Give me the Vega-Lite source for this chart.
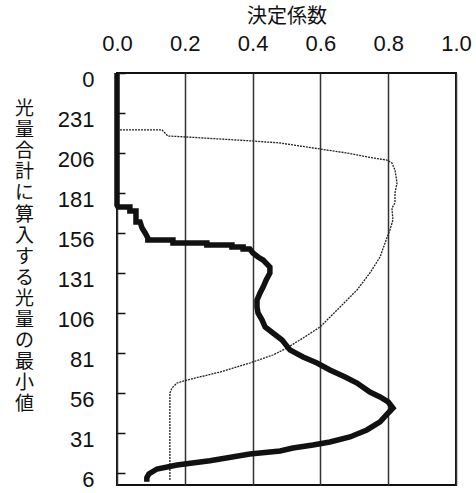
{
  "$schema": "https://vega.github.io/schema/vega-lite/v6.json",
  "width": 339,
  "height": 412,
  "autosize": {"type": "none"},
  "padding": {"left": 117, "top": 73, "right": 20, "bottom": 8},
  "background": "white",
  "config": {
    "view": {"stroke": "#111", "strokeWidth": 2},
    "axis": {"labelColor": "#111", "titleColor": "#111", "labelFont": "Liberation Sans", "titleFont": "Noto Sans CJK JP", "titleFontWeight": "normal"}
  },
  "datasets": {
    "pts": [
      {"s": "A", "i": 0, "v": 0, "y": 256},
      {"s": "A", "i": 1, "v": 0, "y": 173.5},
      {"s": "A", "i": 2, "v": 0.003, "y": 172.3},
      {"s": "A", "i": 3, "v": 0.038, "y": 172.3},
      {"s": "A", "i": 4, "v": 0.038, "y": 169.8},
      {"s": "A", "i": 5, "v": 0.056, "y": 169.8},
      {"s": "A", "i": 6, "v": 0.056, "y": 162.9},
      {"s": "A", "i": 7, "v": 0.068, "y": 162.9},
      {"s": "A", "i": 8, "v": 0.074, "y": 159.1},
      {"s": "A", "i": 9, "v": 0.083, "y": 156},
      {"s": "A", "i": 10, "v": 0.091, "y": 152.9},
      {"s": "A", "i": 11, "v": 0.091, "y": 151.6},
      {"s": "A", "i": 12, "v": 0.165, "y": 151.6},
      {"s": "A", "i": 13, "v": 0.165, "y": 149.75},
      {"s": "A", "i": 14, "v": 0.265, "y": 149.75},
      {"s": "A", "i": 15, "v": 0.265, "y": 148.5},
      {"s": "A", "i": 16, "v": 0.339, "y": 148.5},
      {"s": "A", "i": 17, "v": 0.339, "y": 147.25},
      {"s": "A", "i": 18, "v": 0.372, "y": 147.25},
      {"s": "A", "i": 19, "v": 0.372, "y": 146},
      {"s": "A", "i": 20, "v": 0.392, "y": 146},
      {"s": "A", "i": 21, "v": 0.401, "y": 143.5},
      {"s": "A", "i": 22, "v": 0.416, "y": 141},
      {"s": "A", "i": 23, "v": 0.431, "y": 139.1},
      {"s": "A", "i": 24, "v": 0.451, "y": 134.75},
      {"s": "A", "i": 25, "v": 0.451, "y": 131},
      {"s": "A", "i": 26, "v": 0.44, "y": 126.6},
      {"s": "A", "i": 27, "v": 0.431, "y": 122.25},
      {"s": "A", "i": 28, "v": 0.422, "y": 118.5},
      {"s": "A", "i": 29, "v": 0.413, "y": 114.1},
      {"s": "A", "i": 30, "v": 0.413, "y": 109.75},
      {"s": "A", "i": 31, "v": 0.416, "y": 106},
      {"s": "A", "i": 32, "v": 0.428, "y": 101.6},
      {"s": "A", "i": 33, "v": 0.437, "y": 97.25},
      {"s": "A", "i": 34, "v": 0.46, "y": 93.5},
      {"s": "A", "i": 35, "v": 0.487, "y": 89.1},
      {"s": "A", "i": 36, "v": 0.51, "y": 82.9},
      {"s": "A", "i": 37, "v": 0.549, "y": 78.5},
      {"s": "A", "i": 38, "v": 0.59, "y": 74.75},
      {"s": "A", "i": 39, "v": 0.628, "y": 70.4},
      {"s": "A", "i": 40, "v": 0.673, "y": 66},
      {"s": "A", "i": 41, "v": 0.708, "y": 62.25},
      {"s": "A", "i": 42, "v": 0.746, "y": 56.6},
      {"s": "A", "i": 43, "v": 0.776, "y": 53.5},
      {"s": "A", "i": 44, "v": 0.8, "y": 50.4},
      {"s": "A", "i": 45, "v": 0.814, "y": 46.6},
      {"s": "A", "i": 46, "v": 0.8, "y": 43.5},
      {"s": "A", "i": 47, "v": 0.776, "y": 37.9},
      {"s": "A", "i": 48, "v": 0.737, "y": 32.9},
      {"s": "A", "i": 49, "v": 0.687, "y": 28.5},
      {"s": "A", "i": 50, "v": 0.628, "y": 25.4},
      {"s": "A", "i": 51, "v": 0.578, "y": 23.5},
      {"s": "A", "i": 52, "v": 0.519, "y": 21.6},
      {"s": "A", "i": 53, "v": 0.481, "y": 19.75},
      {"s": "A", "i": 54, "v": 0.392, "y": 17.9},
      {"s": "A", "i": 55, "v": 0.274, "y": 13.7},
      {"s": "A", "i": 56, "v": 0.177, "y": 11},
      {"s": "A", "i": 57, "v": 0.118, "y": 8.5},
      {"s": "A", "i": 58, "v": 0.094, "y": 5.4},
      {"s": "A", "i": 59, "v": 0.088, "y": 3.1},
      {"s": "A", "i": 60, "v": 0.088, "y": 0.6},
      {"s": "B", "i": 0, "v": 0, "y": 220.4},
      {"s": "B", "i": 1, "v": 0.133, "y": 220.4},
      {"s": "B", "i": 2, "v": 0.15, "y": 216.6},
      {"s": "B", "i": 3, "v": 0.206, "y": 216},
      {"s": "B", "i": 4, "v": 0.401, "y": 213.5},
      {"s": "B", "i": 5, "v": 0.481, "y": 212.25},
      {"s": "B", "i": 6, "v": 0.599, "y": 208.5},
      {"s": "B", "i": 7, "v": 0.678, "y": 206},
      {"s": "B", "i": 8, "v": 0.755, "y": 202.9},
      {"s": "B", "i": 9, "v": 0.796, "y": 201.6},
      {"s": "B", "i": 10, "v": 0.811, "y": 199.75},
      {"s": "B", "i": 11, "v": 0.82, "y": 195.4},
      {"s": "B", "i": 12, "v": 0.826, "y": 187.25},
      {"s": "B", "i": 13, "v": 0.82, "y": 181},
      {"s": "B", "i": 14, "v": 0.82, "y": 174.75},
      {"s": "B", "i": 15, "v": 0.811, "y": 171.6},
      {"s": "B", "i": 16, "v": 0.814, "y": 164.1},
      {"s": "B", "i": 17, "v": 0.805, "y": 157.9},
      {"s": "B", "i": 18, "v": 0.796, "y": 152.9},
      {"s": "B", "i": 19, "v": 0.776, "y": 141},
      {"s": "B", "i": 20, "v": 0.746, "y": 131},
      {"s": "B", "i": 21, "v": 0.708, "y": 120.4},
      {"s": "B", "i": 22, "v": 0.658, "y": 109.75},
      {"s": "B", "i": 23, "v": 0.599, "y": 97.25},
      {"s": "B", "i": 24, "v": 0.549, "y": 90.4},
      {"s": "B", "i": 25, "v": 0.501, "y": 84.1},
      {"s": "B", "i": 26, "v": 0.46, "y": 79.75},
      {"s": "B", "i": 27, "v": 0.392, "y": 74.75},
      {"s": "B", "i": 28, "v": 0.304, "y": 69.1},
      {"s": "B", "i": 29, "v": 0.206, "y": 64.1},
      {"s": "B", "i": 30, "v": 0.177, "y": 62.25},
      {"s": "B", "i": 31, "v": 0.162, "y": 59.1},
      {"s": "B", "i": 32, "v": 0.156, "y": 56},
      {"s": "B", "i": 33, "v": 0.156, "y": 1.6}
    ]
  },
  "data": {"name": "pts"},
  "encoding": {
    "x": {
      "field": "v", "type": "quantitative",
      "scale": {"domain": [0, 1], "nice": false, "zero": false},
      "axis": {
        "orient": "top", "values": [0, 0.2, 0.4, 0.6, 0.8, 1], "format": ".1f",
        "ticks": false, "domain": false, "grid": true, "gridColor": "#333", "gridWidth": 1.5, "gridOpacity": 1,
        "labelFontSize": 22, "labelPadding": 18, "labelFlush": false,
        "title": "決定係数", "titleFontSize": 20, "titlePadding": 6
      }
    },
    "y": {
      "field": "y", "type": "quantitative",
      "scale": {"domain": [-1.5, 256], "nice": false, "zero": false},
      "axis": {
        "orient": "left", "values": [6, 31, 56, 81, 106, 131, 156, 181, 206, 231, 256],
        "labelExpr": "datum.value == 256 ? '0' : datum.label",
        "grid": false, "domain": false, "ticks": true, "tickSize": -8, "tickColor": "#111", "tickWidth": 1.5,
        "labelPadding": 31, "labelFontSize": 22, "labelOffset": 6, "labelBaseline": "middle", "labelFlush": false,
        "title": ["光", "量", "合", "計", "に", "算", "入", "す", "る", "光", "量", "の", "最", "小", "値"],
        "titleAngle": 0, "titleX": -93, "titleY": 35.5, "titleAlign": "center", "titleBaseline": "middle",
        "titleLineHeight": 21.1, "titleFontSize": 19
      }
    },
    "order": {"field": "i", "type": "quantitative"}
  },
  "layer": [
    {
      "transform": [{"filter": "datum.s === 'B'"}],
      "mark": {"type": "line", "stroke": "#222", "strokeWidth": 1.3, "strokeDash": [2, 1]}
    },
    {
      "transform": [{"filter": "datum.s === 'A'"}],
      "mark": {"type": "line", "stroke": "#111", "strokeWidth": 5.5}
    }
  ]
}
